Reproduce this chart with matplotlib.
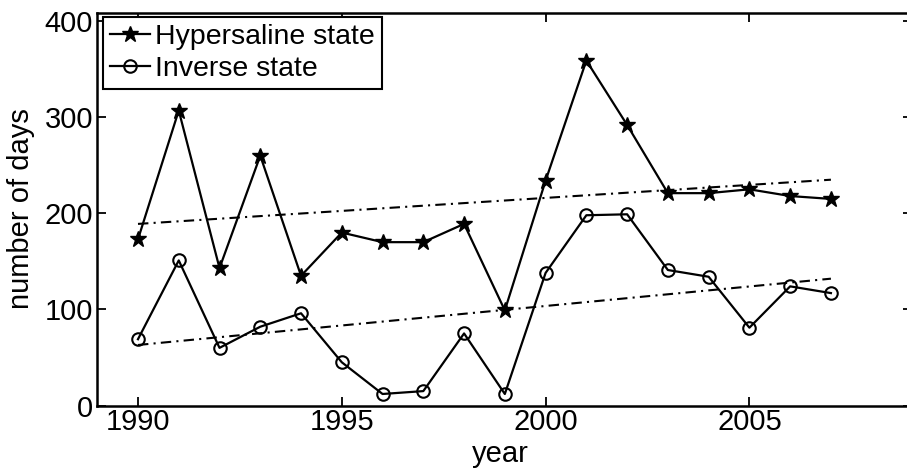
import matplotlib
matplotlib.use("Agg")
import matplotlib.pyplot as plt
import numpy as np

years = [1990, 1991, 1992, 1993, 1994, 1995, 1996, 1997, 1998, 1999,
         2000, 2001, 2002, 2003, 2004, 2005, 2006, 2007]
hypersaline = [173, 307, 143, 260, 135, 180, 170, 170, 189, 99,
               234, 359, 292, 221, 221, 225, 218, 215]
inverse = [69, 151, 60, 82, 96, 45, 12, 15, 75, 12,
           138, 198, 199, 141, 134, 81, 124, 117]

trend_years = [1990, 2007]
hyper_trend = [189, 235]
inverse_trend = [63, 132]

xticks = [1990, 1995, 2000, 2005]
yticks = [0, 100, 200, 300, 400]

plt.rcParams['font.family'] = ['Liberation Sans', 'DejaVu Sans']
FS = 21

fig = plt.figure(figsize=(9.07, 4.70), dpi=100)
ax = fig.add_axes([0.1072, 0.1372, 0.8988, 0.8362])

ax.plot(years, hypersaline, color='black', lw=1.6, marker='*', ms=12,
        mfc='black', mec='black', mew=1.0, label='Hypersaline state')
ax.plot(years, inverse, color='black', lw=1.6, marker='o', ms=9,
        mfc='none', mec='black', mew=1.5, label='Inverse state')
ax.plot(trend_years, hyper_trend, color='black', lw=1.5,
        linestyle=(0, (5, 2.5, 1, 2.5)))
ax.plot(trend_years, inverse_trend, color='black', lw=1.5,
        linestyle=(0, (5, 2.5, 1, 2.5)))

ax.set_xlim(1989, 2009)
ax.set_ylim(0, 409)
ax.set_xticks(xticks)
ax.set_yticks(yticks)
ax.tick_params(direction='in', length=6.5, width=1.3, top=True, right=True,
               labelsize=FS)
ax.tick_params(axis='x', pad=2)
ax.tick_params(axis='y', pad=3)
for s in ax.spines.values():
    s.set_linewidth(1.8)

ax.set_xlabel('year', fontsize=FS)
ax.set_ylabel('number of days', fontsize=FS)
ax.xaxis.set_label_coords(0.495, -0.088)
ax.yaxis.set_label_coords(-0.076, 0.5)

leg = ax.legend(loc='upper left', bbox_to_anchor=(0.0074, 0.9885),
                borderaxespad=0, fontsize=20.5, fancybox=False,
                frameon=True, edgecolor='black', framealpha=1,
                handlelength=1.4, handletextpad=0.18, borderpad=0.25,
                labelspacing=0.2)
leg.get_frame().set_linewidth(1.5)

fig.savefig('out.png', dpi=100)
